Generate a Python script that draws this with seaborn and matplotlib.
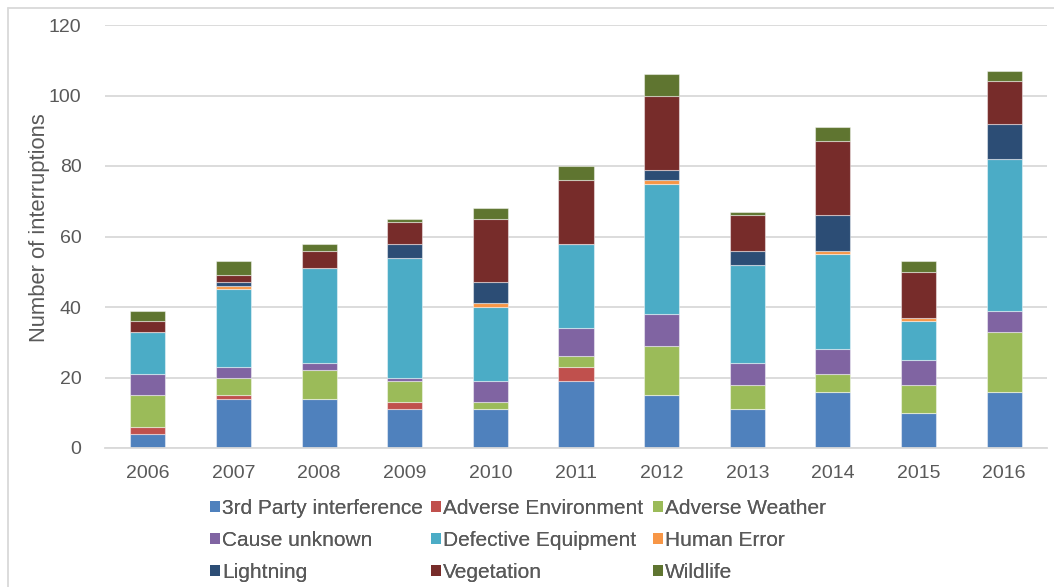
import matplotlib
matplotlib.use("Agg")
import matplotlib.pyplot as plt
from matplotlib.lines import Line2D
from matplotlib.patches import Patch
import seaborn as sns
import numpy as np

years = ["2006", "2007", "2008", "2009", "2010", "2011",
         "2012", "2013", "2014", "2015", "2016"]

causes = ["3rd Party interference", "Adverse Environment", "Adverse Weather",
          "Cause unknown", "Defective Equipment", "Human Error",
          "Lightning", "Vegetation", "Wildlife"]

third_party = [4, 14, 14, 11, 11, 19, 15, 11, 16, 10, 16]
adverse_environment = [2, 1, 0, 2, 0, 4, 0, 0, 0, 0, 0]
adverse_weather = [9, 5, 8, 6, 2, 3, 14, 7, 5, 8, 17]
cause_unknown = [6, 3, 2, 1, 6, 8, 9, 6, 7, 7, 6]
defective_equipment = [12, 22, 27, 34, 21, 24, 37, 28, 27, 11, 43]
human_error = [0, 1, 0, 0, 1, 0, 1, 0, 1, 1, 0]
lightning = [0, 1, 0, 4, 6, 0, 3, 4, 10, 0, 10]
vegetation = [3, 2, 5, 6, 18, 18, 21, 10, 21, 13, 12]
wildlife = [3, 4, 2, 1, 3, 4, 6, 1, 4, 3, 3]

series = [third_party, adverse_environment, adverse_weather, cause_unknown,
          defective_equipment, human_error, lightning, vegetation, wildlife]

colors = ["#4F81BD", "#C0504D", "#9BBB59", "#8064A2", "#4BACC6",
          "#F79646", "#2C4D75", "#772C2A", "#5F7530"]

text_color = "#595959"
grid_color = "#D9D9D9"

sns.set_theme(style="white")
plt.rcParams["font.family"] = ["Liberation Sans", "DejaVu Sans"]

W, H = 1054, 587
fig = plt.figure(figsize=(W / 100, H / 100), dpi=100)
ax = fig.add_axes([105 / W, 1 - 448 / H, (1047 - 105) / W, (448 - 25) / H])

bottom = np.zeros(len(years))
for name, vals, col in zip(causes, series, colors):
    vals = np.array(vals, dtype=float)
    sns.barplot(x=years, y=vals, bottom=bottom, color=col, width=0.41,
                edgecolor=(1, 1, 1, 0.45), linewidth=0.8, saturation=1,
                ax=ax, label=name, legend=False)
    bottom = bottom + vals

ax.set_xlim(-0.5, len(years) - 0.5)
ax.set_ylim(0, 120)
ax.set_yticks(range(0, 121, 20))
ax.yaxis.grid(True, color=grid_color, linewidth=1.3)
ax.set_axisbelow(True)
for side in ["left", "right", "top"]:
    ax.spines[side].set_visible(False)
ax.spines["bottom"].set_color(grid_color)
ax.spines["bottom"].set_linewidth(1.3)
ax.tick_params(axis="both", length=0, labelsize=14, colors=text_color)
ax.tick_params(axis="y", pad=17)
ax.tick_params(axis="x", pad=12)
ax.set_xlabel("")
ax.set_ylabel("Number of interruptions", fontsize=15.8, color=text_color)
ax.yaxis.set_label_coords(-(105 - 50) / (1047 - 105), 0.52)

# Legend: three columns, filled row by row
handles = [Patch(facecolor=c, edgecolor="none") for c in colors]
col_x = [210, 431, 653]
for j, x0 in enumerate(col_x):
    idx = [j, j + 3, j + 6]
    leg = fig.legend([handles[i] for i in idx], [causes[i] for i in idx],
                     loc="upper left", bbox_to_anchor=(x0 / W, 1 - 499 / H),
                     frameon=False, fontsize=15.0, borderpad=0, borderaxespad=0,
                     handlelength=0.48, handleheight=0.48, handletextpad=0.1,
                     labelspacing=0.62, labelcolor=text_color)
    fig.add_artist(leg)

# Chart area border on the left and top edges
fig.add_artist(Line2D([7.5 / W, 7.5 / W], [0, 1 - 7.5 / H],
                      transform=fig.transFigure, color=grid_color, linewidth=1.3))
fig.add_artist(Line2D([7.5 / W, 1], [1 - 7.5 / H, 1 - 7.5 / H],
                      transform=fig.transFigure, color=grid_color, linewidth=1.3))

fig.savefig("out.png", dpi=100)
